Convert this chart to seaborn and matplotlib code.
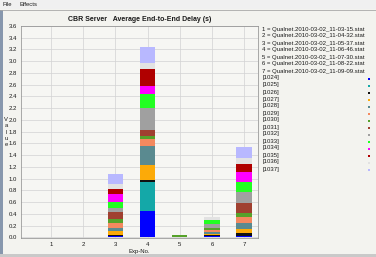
import pandas as pd
import matplotlib.pyplot as plt
import seaborn as sns
from matplotlib.patches import Rectangle
from matplotlib.lines import Line2D

# experiments and stat files
exp_no = [1, 2, 3, 4, 5, 6, 7]
stat_files = ['Qualnet.2010-03-02_11-03-15.stat',
              'Qualnet.2010-03-02_11-04-32.stat',
              'Qualnet.2010-03-02_11-05-37.stat',
              'Qualnet.2010-03-02_11-06-46.stat',
              'Qualnet.2010-03-02_11-07-30.stat',
              'Qualnet.2010-03-02_11-08-22.stat',
              'Qualnet.2010-03-02_11-09-09.stat']

# flows (stack order, bottom to top) and their colours
flows = ['[1024]', '[1025]', '[1026]', '[1027]', '[1028]', '[1029]', '[1030]',
         '[1031]', '[1032]', '[1033]', '[1034]', '[1035]', '[1036]', '[1037]']
flow_colors = ['#0000ff', '#14a8a8', '#111111', '#fcaa08', '#5a8a90', '#f4895f', '#56a22a',
               '#a04030', '#a0a0a0', '#22ff22', '#ff00ff', '#b00000', '#e2e2e2', '#b8b8ff']

# average end-to-end delay (s) per flow, one list per experiment
delay_exp1 = [0, 0, 0, 0, 0, 0, 0, 0, 0, 0, 0, 0, 0, 0]
delay_exp2 = [0, 0, 0, 0, 0, 0, 0, 0, 0, 0, 0, 0, 0, 0]
delay_exp3 = [0.025, 0.0, 0.02, 0.07, 0.05, 0.08, 0.06, 0.13, 0.07, 0.10, 0.13, 0.08, 0.09, 0.18]
delay_exp4 = [0.45, 0.49, 0.03, 0.27, 0.31, 0.13, 0.05, 0.10, 0.38, 0.23, 0.14, 0.28, 0.11, 0.28]
delay_exp5 = [0.0, 0.005, 0.005, 0.0, 0.0, 0.0, 0.025, 0.0, 0.0, 0.0, 0.0, 0.0, 0.0, 0.0]
delay_exp6 = [0.025, 0.0, 0.015, 0.015, 0.04, 0.03, 0.04, 0.0, 0.055, 0.08, 0.0, 0.0, 0.045, 0.0]
delay_exp7 = [0.025, 0.0, 0.045, 0.07, 0.10, 0.11, 0.07, 0.17, 0.18, 0.17, 0.18, 0.125, 0.10, 0.19]

all_delays = [delay_exp1, delay_exp2, delay_exp3, delay_exp4, delay_exp5, delay_exp6, delay_exp7]
rows = []
for e, vals in zip(exp_no, all_delays):
    for f, v in zip(flows, vals):
        rows.append({'exp': e, 'flow': f, 'delay': v})
df = pd.DataFrame(rows)

sns.set_style('white')
plt.rcParams['font.family'] = ['Liberation Sans', 'DejaVu Sans']
bg = '#f3f3ef'
txt_color = '#1a1a1a'

fig = plt.figure(figsize=(3.76, 2.57), dpi=100, facecolor=bg)
ax = fig.add_axes([0.055, 0.072, 0.631, 0.827])
ax.set_facecolor('#f6f6f3')

palette = dict(zip(flows, flow_colors))
sns.histplot(data=df, x='exp', weights='delay', hue='flow', hue_order=flows[::-1],
             palette=palette, multiple='stack', discrete=True, shrink=0.48,
             alpha=1, linewidth=0, legend=False, ax=ax)

ax.set_xlim(0.06, 7.43)
ax.set_ylim(-0.02, 3.6)
ax.set_xticks(exp_no)
ax.set_xticklabels([str(e) for e in exp_no])
yt = [i * 0.2 for i in range(19)]
ax.set_yticks(yt)
ax.set_yticklabels(['%.1f' % v for v in yt])
ax.grid(True, color='#d2d2d2', linewidth=0.5)
ax.set_axisbelow(True)
for s in ax.spines.values():
    s.set_color('#8a8a8a')
    s.set_linewidth(0.5)
ax.tick_params(labelsize=4.3, length=1.5, width=0.4, pad=1.2, colors=txt_color)
ax.set_ylabel('')
ax.set_xlabel('Exp-No.', fontsize=4.3, labelpad=1.2, color=txt_color)
ax.set_title('CBR Server   Average End-to-End Delay (s)', fontsize=5.0,
             fontweight='bold', pad=3.5, color=txt_color)

# stacked vertical y label
fig.text(6 / 376, 1 - 132 / 257, 'V\na\nl\nu\ne', fontsize=4.2, ha='center', va='center',
         linespacing=1.3, color=txt_color)

# legend column at the right
legend_lines = ['%d = %s' % (e, s) for e, s in zip(exp_no, stat_files)] + flows
for i, txt in enumerate(legend_lines):
    y = 1 - (29 + 7.0 * i) / 257
    fig.text(262.5 / 376, y, txt, fontsize=4.3, ha='left', va='center', color=txt_color)
for i, c in enumerate(flow_colors):
    y = 1 - (79 + 7.0 * i) / 257
    fig.patches.append(Rectangle((368 / 376, y - 1.2 / 257), 2.4 / 376, 2.4 / 257,
                                 transform=fig.transFigure, facecolor=c, edgecolor='none'))

# window decoration: menu bar, left border, bottom strip
fig.patches.append(Rectangle((0, 1 - 9 / 257), 1, 9 / 257, transform=fig.transFigure,
                             facecolor='#f0f0f0', edgecolor='none', zorder=-1))
fig.lines.append(Line2D([0, 1], [1 - 9.5 / 257] * 2, transform=fig.transFigure,
                        color='#a8a8a8', linewidth=0.6))
fig.patches.append(Rectangle((0, 0), 2.5 / 376, 1 - 10 / 257, transform=fig.transFigure,
                             facecolor='#8797ad', edgecolor='none'))
fig.patches.append(Rectangle((0, 0), 1, 3 / 257, transform=fig.transFigure,
                             facecolor='#c9c9c9', edgecolor='none'))
fig.text(3 / 376, 1 - 4.5 / 257, 'File', fontsize=4.2, ha='left', va='center', color=txt_color)
fig.text(19 / 376, 1 - 4.5 / 257, 'Effects', fontsize=4.2, ha='left', va='center', color=txt_color)

fig.savefig('out.png', dpi=100, facecolor=bg)
